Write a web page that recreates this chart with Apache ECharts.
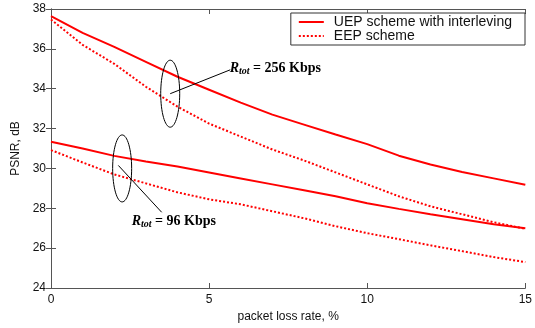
<!DOCTYPE html>
<html>
<head>
<meta charset="utf-8">
<script src="https://cdn.jsdelivr.net/npm/echarts@6/dist/echarts.min.js"></script>
<style>html,body{margin:0;padding:0;background:#fff}#c{width:535px;height:328px}</style>
</head>
<body>
<div id="c"></div>
<script>
const lossRate = [0,1,2,3,4,5,6,7,8,9,10,11,12,13,14,15];
const uep256 = [37.64,36.8,36.1,35.35,34.6,33.95,33.3,32.7,32.2,31.7,31.22,30.64,30.2,29.82,29.5,29.18];
const eep256 = [37.47,36.2,35.25,34.1,33.1,32.25,31.6,30.95,30.4,29.8,29.2,28.6,28.1,27.7,27.3,26.97];
const uep96 = [31.34,31.0,30.63,30.35,30.1,29.8,29.5,29.2,28.9,28.6,28.25,27.97,27.7,27.45,27.2,27.0];
const eep96 = [30.92,30.3,29.7,29.25,28.8,28.45,28.2,27.85,27.5,27.1,26.75,26.45,26.14,25.85,25.55,25.3];
const seriesNames = ['UEP scheme with interleving','EEP scheme'];
const xTicks = {min:0,max:15,interval:5};
const yTicks = {min:24,max:38,interval:2};

const pairs = a => lossRate.map((x,i)=>[x,a[i]]);
const axisCol = '#555';
const font = 'Liberation Sans, Arial, sans-serif';
const chart = echarts.init(document.getElementById('c'));
const solid = {color:'#ff0000',width:2,type:'solid'};
const dot = {color:'#ff0000',width:2,type:[2,2]};
const mk = (name,data,ls)=>({type:'line',name,data:pairs(data),showSymbol:false,symbol:'none',lineStyle:ls,itemStyle:{color:'#ff0000'},animation:false,smooth:false});
chart.setOption({
  animation:false,
  grid:{left:51,right:3,top:9,bottom:32},
  legend:{
    right:10,top:13,orient:'vertical',itemWidth:25,itemHeight:8,itemGap:0,
    padding:[2,13,2,7],borderColor:'#333',borderWidth:1,backgroundColor:'#fff',
    itemStyle:{opacity:0},
    textStyle:{fontFamily:font,fontSize:14,color:'#111',lineHeight:13,padding:[0,0,0,5]},
    data:seriesNames
  },
  xAxis:[{type:'value',min:xTicks.min,max:xTicks.max,interval:xTicks.interval,
    name:'packet loss rate, %',nameLocation:'middle',nameGap:23,
    nameTextStyle:{fontFamily:font,fontSize:12,color:'#111'},
    axisLine:{lineStyle:{color:axisCol}},axisTick:{inside:true,length:5,lineStyle:{color:axisCol}},
    axisLabel:{fontFamily:font,fontSize:12,color:'#111',margin:6},splitLine:{show:false}},
   {type:'value',position:'top',min:xTicks.min,max:xTicks.max,interval:xTicks.interval,
    axisLine:{lineStyle:{color:axisCol}},axisTick:{inside:true,length:5,lineStyle:{color:axisCol}},
    axisLabel:{show:false},splitLine:{show:false}}],
  yAxis:[{type:'value',min:yTicks.min,max:yTicks.max,interval:yTicks.interval,
    name:'PSNR, dB',nameLocation:'middle',nameGap:25,
    nameTextStyle:{fontFamily:font,fontSize:12,color:'#111'},
    axisLine:{show:true,lineStyle:{color:axisCol}},axisTick:{show:true,inside:true,length:5,lineStyle:{color:axisCol}},
    axisLabel:{fontFamily:font,fontSize:12,color:'#111',margin:5},splitLine:{show:false}},
   {type:'value',position:'right',min:yTicks.min,max:yTicks.max,interval:yTicks.interval,
    axisLine:{show:true,lineStyle:{color:axisCol}},axisTick:{show:true,inside:true,length:5,lineStyle:{color:axisCol}},
    axisLabel:{show:false},splitLine:{show:false}}],
  series:[
    mk(seriesNames[0],uep256,solid),
    mk(seriesNames[1],eep256,dot),
    mk(seriesNames[0],uep96,solid),
    mk(seriesNames[1],eep96,dot)
  ]
});
// annotations positioned through the axes
const P = (x,y)=>chart.convertToPixel({gridIndex:0},[x,y]);
const e1 = P(3.77,33.75), e2 = P(2.25,30.0);
const l1a = P(3.77,33.75), l1b = P(5.67,34.95);
const l2a = P(2.13,30.15), l2b = P(3.5,27.8);
const t1 = P(5.65,35.0), t2 = P(2.55,27.35);
const rich = {
  b:{fontFamily:'Liberation Serif, Times New Roman, serif',fontSize:14,fontWeight:'bold',fontStyle:'italic',fill:'#000'},
  s:{fontFamily:'Liberation Serif, Times New Roman, serif',fontSize:10,fontWeight:'bold',fontStyle:'italic',fill:'#000',verticalAlign:'bottom',padding:[6,0,0,0]},
  n:{fontFamily:'Liberation Serif, Times New Roman, serif',fontSize:14,fontWeight:'bold',fill:'#000'}
};
chart.setOption({graphic:[
  {type:'ellipse',shape:{cx:e1[0],cy:e1[1],rx:9.5,ry:33.5},style:{fill:'none',stroke:'#000',lineWidth:1},z:100},
  {type:'ellipse',shape:{cx:e2[0],cy:e2[1],rx:9.5,ry:33.5},style:{fill:'none',stroke:'#000',lineWidth:1},z:100},
  {type:'line',shape:{x1:l1a[0],y1:l1a[1],x2:l1b[0],y2:l1b[1]},style:{stroke:'#000',lineWidth:1},z:100},
  {type:'line',shape:{x1:l2a[0],y1:l2a[1],x2:l2b[0],y2:l2b[1]},style:{stroke:'#000',lineWidth:1},z:100},
  {type:'text',x:t1[0],y:t1[1],style:{text:'{b|R}{s|tot}{n| = 256 Kbps}',rich:rich,verticalAlign:'middle'},z:100},
  {type:'text',x:t2[0],y:t2[1],style:{text:'{b|R}{s|tot}{n| = 96 Kbps}',rich:rich,verticalAlign:'middle'},z:100}
]});
</script>
</body>
</html>
